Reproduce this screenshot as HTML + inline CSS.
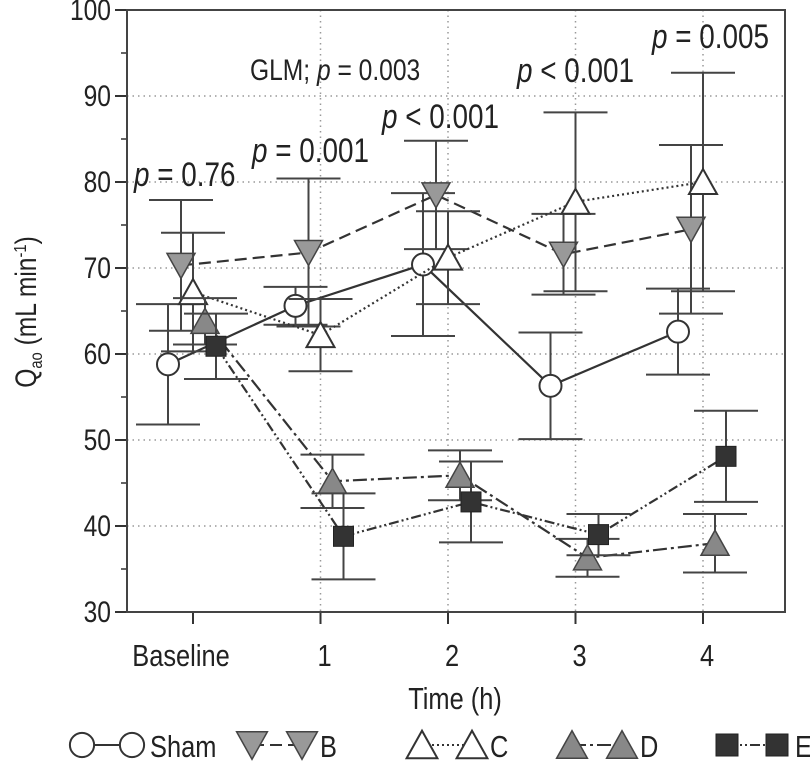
<!DOCTYPE html>
<html><head><meta charset="utf-8"><style>
html,body{margin:0;padding:0;background:#fff;}
svg text{font-family:"Liberation Sans",sans-serif;fill:#222;}
</style></head><body>
<svg id="chart" width="810" height="763" viewBox="0 0 810 763">
<g id="grid"></g>
<g id="series"></g>
<g id="axes"></g>
<g id="legend"></g>
</svg>
<script>
const categories = ["Baseline","1","2","3","4"];
const yTicks = [30,40,50,60,70,80,90,100];
const seriesNames = ["Sham","B","C","D","E"];
const shamVals = [58.8,65.6,70.4,56.3,62.6];
const shamErr = [7.0,2.2,8.3,6.2,5.0];
const bVals = [70.3,71.8,78.5,71.6,74.5];
const bErr = [7.6,8.6,6.3,4.7,9.8];
const cVals = [67.2,62.2,71.2,77.7,80.0];
const cErr = [6.9,4.2,5.4,10.4,12.7];
const dVals = [63.8,45.2,45.9,36.3,38.0];
const dErr = [2.7,3.1,2.9,2.2,3.4];
const eVals = [60.9,38.8,42.8,39.0,48.1];
const eErr = [3.8,5.0,4.7,2.4,5.3];
const pLabels = ["p = 0.76","p = 0.001","p < 0.001","p < 0.001","p = 0.005"];

const NS="http://www.w3.org/2000/svg";
const L=127,R=785,T=10,B=612;
const SX=0.82;
function yS(v){return B-(v-30)/(100-30)*(B-T);}
function xS(i){return 193+i*127.5;}
function mk(tag,at,parent){const e=document.createElementNS(NS,tag);for(const k in at)e.setAttribute(k,at[k]);parent.appendChild(e);return e;}
function txt(x,y,size,anchor,parent,extra){
  const e=mk('text',Object.assign({x:0,y:0,'font-size':size,'text-anchor':anchor,transform:`translate(${x},${y}) scale(${SX},1)`},extra||{}),parent);
  return e;
}
const grid=document.getElementById('grid'),axes=document.getElementById('axes'),ser=document.getElementById('series'),leg=document.getElementById('legend');

yTicks.forEach(t=>{
  if(t>30&&t<100){const g=mk('line',{x1:L,x2:R,y1:yS(t),y2:yS(t),stroke:'#999','stroke-width':1.5,'stroke-dasharray':'1.5 4'},grid);
  }
  const tk=mk('line',{x1:L-12,x2:L,y1:yS(t),y2:yS(t),stroke:'#333','stroke-width':2},axes);
  
  if(t<100){const mt=mk('line',{x1:L-6,x2:L,y1:yS(t+5),y2:yS(t+5),stroke:'#333','stroke-width':1.5},axes);
  }
  const tx=txt(L-16,yS(t)+10,30,'end',axes);
  tx.textContent=t;
});
categories.forEach((c,i)=>{
  if(i>0){const g=mk('line',{x1:xS(i),x2:xS(i),y1:T,y2:B,stroke:'#999','stroke-width':1.5,'stroke-dasharray':'1.5 4'},grid);
  }
  const tk=mk('line',{x1:xS(i),x2:xS(i),y1:B,y2:B+12,stroke:'#333','stroke-width':2},axes);
  
  const tx=txt(i==0?181:xS(i)+4,666,31,'middle',axes);
  tx.textContent=c;
});
const fr=mk('rect',{x:L,y:T,width:R-L,height:B-T,fill:'none',stroke:'#444','stroke-width':2},axes);

const xt=txt(455,709,31,'middle',axes);
xt.textContent='Time (h)';
const yt=mk('text',{x:0,y:0,'text-anchor':'middle','font-size':30,transform:'translate(36,312) rotate(-90) scale(0.82,1)'},axes);

yt.innerHTML='Q<tspan font-size="18" dy="6">ao</tspan><tspan dy="-6"> (mL min</tspan><tspan font-size="18" dy="-10">-1</tspan><tspan dy="10">)</tspan>';

const glm=txt(250,80,30,'start',axes);
glm.innerHTML='GLM; <tspan font-style="italic">p</tspan> = 0.003';

const pPos=[[134,186],[252,162],[382,128],[517,82],[652,48]];
pLabels.forEach((p,i)=>{
  const t=txt(pPos[i][0],pPos[i][1],34,'start',axes);
  t.innerHTML='<tspan font-style="italic">p</tspan>'+p.slice(1);
  
});

function marker(type,x,y,parent,s){
  s=s||1;let e;
  if(type==='circle')e=mk('circle',{cx:x,cy:y,r:11*s,fill:'#fff',stroke:'#333','stroke-width':2},parent);
  else if(type==='down')e=mk('polygon',{points:`${x-14*s},${y-12*s} ${x+14*s},${y-12*s} ${x},${y+13*s}`,fill:'#999',stroke:'#444','stroke-width':1.5},parent);
  else if(type==='up')e=mk('polygon',{points:`${x-14*s},${y+12*s} ${x+14*s},${y+12*s} ${x},${y-13*s}`,fill:'#fff',stroke:'#333','stroke-width':2},parent);
  else if(type==='upd')e=mk('polygon',{points:`${x-14*s},${y+12*s} ${x+14*s},${y+12*s} ${x},${y-13*s}`,fill:'#888',stroke:'#444','stroke-width':1.5},parent);
  else e=mk('rect',{x:x-10*s,y:y-10*s,width:20*s,height:20*s,fill:'#333',stroke:'#222','stroke-width':1},parent);
  return e;
}
const cfg=[
  {name:'sham',vals:shamVals,err:shamErr,off:-25,type:'circle',dash:''},
  {name:'b',vals:bVals,err:bErr,off:-12,type:'down',dash:'12 6'},
  {name:'c',vals:cVals,err:cErr,off:0,type:'up',dash:'2 3'},
  {name:'d',vals:dVals,err:dErr,off:12,type:'upd',dash:'14 4 3 4'},
  {name:'e',vals:eVals,err:eErr,off:23,type:'sq',dash:'10 3 2 3 2 3'}
];
cfg.forEach(s=>{
  const g=mk('g',{},ser);
  
  s.vals.forEach((v,i)=>{
    const x=xS(i)+s.off;
    const e=mk('path',{d:`M${x},${yS(v+s.err[i])}V${yS(v-s.err[i])}M${x-32},${yS(v+s.err[i])}h64M${x-32},${yS(v-s.err[i])}h64`,stroke:'#444','stroke-width':2,fill:'none'},g);
    
  });
  const pts=s.vals.map((v,i)=>`${xS(i)+s.off},${yS(v)}`).join(' ');
  const ln=mk('polyline',{points:pts,fill:'none',stroke:'#333','stroke-width':2.2,'stroke-dasharray':s.dash},g);
  
  s.vals.forEach((v,i)=>{
    const m=marker(s.type,xS(i)+s.off,yS(v),g);
    
  });
});
const legX=[82,252,422,572,727];
cfg.forEach((s,i)=>{
  const g=mk('g',{},leg);
  
  const x0=legX[i],y0=745;
  mk('line',{x1:x0,x2:x0+50,y1:y0,y2:y0,stroke:'#333','stroke-width':2,'stroke-dasharray':s.dash},g);
  marker(s.type,x0,y0,g,1.1);marker(s.type,x0+50,y0,g,1.1);
  const t=txt(x0+68,y0+12,31,'start',g);
  t.textContent=seriesNames[i];
});
</script>
</body></html>
